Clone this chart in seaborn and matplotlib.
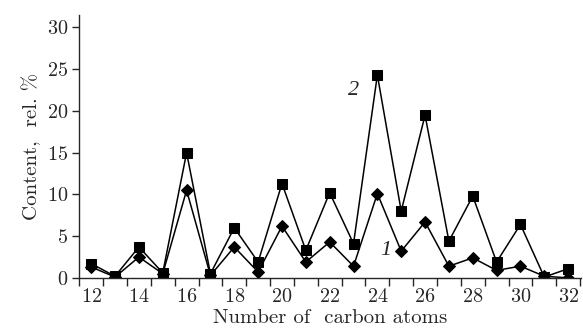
import seaborn as sns
import matplotlib.pyplot as plt
import pandas as pd

carbon = list(range(12, 33))
series_1 = [1.3, 0.1, 2.5, 0.5, 10.5, 0.3, 3.7, 0.7, 6.2, 1.9, 4.3,
            1.4, 10.1, 3.2, 6.7, 1.4, 2.4, 0.9, 1.4, 0.2, 0.0]
series_2 = [1.7, 0.2, 3.7, 0.6, 15.0, 0.5, 6.0, 1.9, 11.3, 3.3, 10.2,
            4.1, 24.3, 8.0, 19.5, 4.4, 9.8, 1.9, 6.4, 0.1, 1.1]
xticks = [12, 14, 16, 18, 20, 22, 24, 26, 28, 30, 32]
yticks = [0, 5, 10, 15, 20, 25, 30]

df = pd.DataFrame({"carbon": carbon, "s1": series_1, "s2": series_2})

sns.set_style("ticks")
plt.rcParams["font.family"] = ["cmr10", "DejaVu Serif"]
plt.rcParams["axes.formatter.use_mathtext"] = True
plt.rcParams["axes.unicode_minus"] = False

fig, ax = plt.subplots(figsize=(5.83, 3.32), dpi=100)

sns.lineplot(data=df, x="carbon", y="s2", marker="s", markersize=7,
             color="black", linewidth=1.1, markeredgecolor="black", ax=ax)
sns.lineplot(data=df, x="carbon", y="s1", marker="D", markersize=6,
             color="black", linewidth=1.1, markeredgecolor="black", ax=ax)

ax.text(23.0, 22.5, "2", fontsize=16, ha="center", va="center",
        family="Liberation Serif", style="italic")
ax.text(24.35, 3.3, "1", fontsize=16, ha="center", va="center",
        family="Liberation Serif", style="italic")

ax.set_xlim(11.5, 32.55)
ax.set_ylim(0, 31.5)
ax.set_xticks(xticks)
ax.set_xticks([c + 0.5 for c in range(11, 33)], minor=True)
ax.tick_params(axis="x", which="major", length=0, labelsize=14.5, pad=7)
ax.tick_params(axis="x", which="minor", length=6, width=1, direction="out")
ax.set_yticks(yticks)
ax.tick_params(axis="y", length=5, width=1, labelsize=14.5, direction="out",
               pad=3)

ax.set_xlabel("Number of  carbon atoms", fontsize=15, va="top")
ax.xaxis.set_label_coords(0.5, -0.118)
ax.set_ylabel("Content,  rel. %", fontsize=15, labelpad=4)
sns.despine(ax=ax)
ax.spines["left"].set_linewidth(1)
ax.spines["bottom"].set_linewidth(1)

fig.subplots_adjust(left=0.136, right=0.997, top=0.955, bottom=0.163)
fig.savefig("out.png", dpi=100)
